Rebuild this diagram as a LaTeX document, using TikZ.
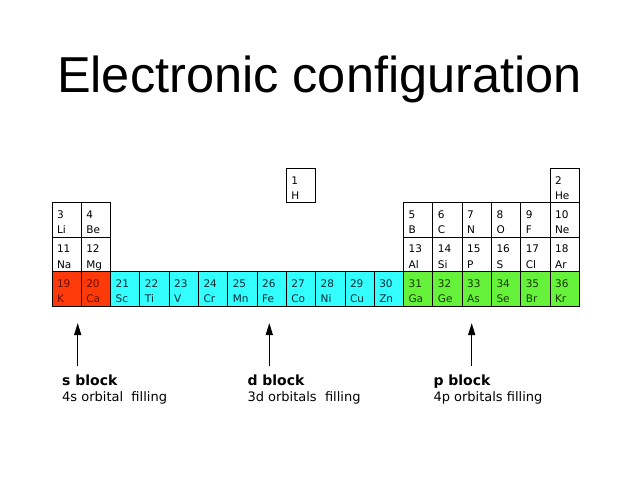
\documentclass[tikz,border=0pt]{standalone}
\usepackage{fontspec}
\usetikzlibrary{arrows.meta}
\newfontfamily\djv{DejaVu Sans}
\newfontfamily\libsans{Liberation Sans}
\definecolor{fillW}{HTML}{FFFFFF}
\definecolor{txtW}{HTML}{000000}
\definecolor{fillS}{HTML}{FF3A0A}
\definecolor{txtS}{HTML}{6A1000}
\definecolor{fillD}{HTML}{33FFFF}
\definecolor{txtD}{HTML}{0A2A33}
\definecolor{fillP}{HTML}{66F23A}
\definecolor{txtP}{HTML}{163800}
\tikzset{
  cell/.style={draw=black, line width=0.9pt, minimum width=29.3pt, minimum height=34.4pt,
    inner sep=0pt, outer sep=0pt, anchor=north west},
  celltxt/.style={anchor=base west, inner sep=0pt, font=\djv\fontsize{10.5}{12}\selectfont},
  blockhead/.style={anchor=base west, inner sep=0pt, font=\djv\bfseries\fontsize{14}{16}\selectfont},
  blocksub/.style={anchor=base west, inner sep=0pt, font=\djv\fontsize{13}{15}\selectfont},
  arr/.style={line width=1.3pt, -{Triangle[length=12pt,width=7pt]}}
}
\begin{document}
\begin{tikzpicture}[x=1pt,y=-1pt]
\useasboundingbox (0,0) rectangle (638,479);
\fill[white] (0,0) rectangle (638,479);
% title
\node[anchor=base, inner sep=0pt, font=\libsans\fontsize{50.5}{57}\selectfont] (title) at (319.5,92.7) {Electronic configuration};
% cells: number/symbol/column/row/kind
\foreach \n/\s/\c/\r/\k in {
  1/H/8/0/W, 2/He/17/0/W,
  3/Li/0/1/W, 4/Be/1/1/W, 5/B/12/1/W, 6/C/13/1/W, 7/N/14/1/W, 8/O/15/1/W, 9/F/16/1/W, 10/Ne/17/1/W,
  11/Na/0/2/W, 12/Mg/1/2/W, 13/Al/12/2/W, 14/Si/13/2/W, 15/P/14/2/W, 16/S/15/2/W, 17/Cl/16/2/W, 18/Ar/17/2/W,
  19/K/0/3/S, 20/Ca/1/3/S,
  21/Sc/2/3/D, 22/Ti/3/3/D, 23/V/4/3/D, 24/Cr/5/3/D, 25/Mn/6/3/D, 26/Fe/7/3/D, 27/Co/8/3/D, 28/Ni/9/3/D, 29/Cu/10/3/D, 30/Zn/11/3/D,
  31/Ga/12/3/P, 32/Ge/13/3/P, 33/As/14/3/P, 34/Se/15/3/P, 35/Br/16/3/P, 36/Kr/17/3/P}{
  \node[cell, fill=fill\k] (e\n) at ({52+\c*29.3},{168.5+\r*34.4}) {};
  \node[celltxt, text=txt\k] (n\n) at ([xshift=4.8pt,yshift=-15.6pt]e\n.north west) {\n};
  \node[celltxt, text=txt\k] (s\n) at ([xshift=4.8pt,yshift=-31pt]e\n.north west) {\s};
}
% block labels
\node[blockhead] (sHead) at (62,385) {s block};
\node[blocksub] (sSub) at (62,401.7) {4s orbital\ \ filling};
\node[blockhead] (dHead) at (247.3,385) {d block};
\node[blocksub] (dSub) at (247.3,401.7) {3d orbitals\ \ filling};
\node[blockhead] (pHead) at (433.3,385) {p block};
\node[blocksub] (pSub) at (433.3,401.7) {4p orbitals filling};
% arrows
\coordinate (sBase) at (77.7,366);
\coordinate (sTip) at (77.7,323);
\coordinate (dBase) at (269.3,366);
\coordinate (dTip) at (269.3,323);
\coordinate (pBase) at (471.7,366);
\coordinate (pTip) at (471.7,323);
\draw[arr] (sBase) -- (sTip);
\draw[arr] (dBase) -- (dTip);
\draw[arr] (pBase) -- (pTip);
\end{tikzpicture}
\end{document}
